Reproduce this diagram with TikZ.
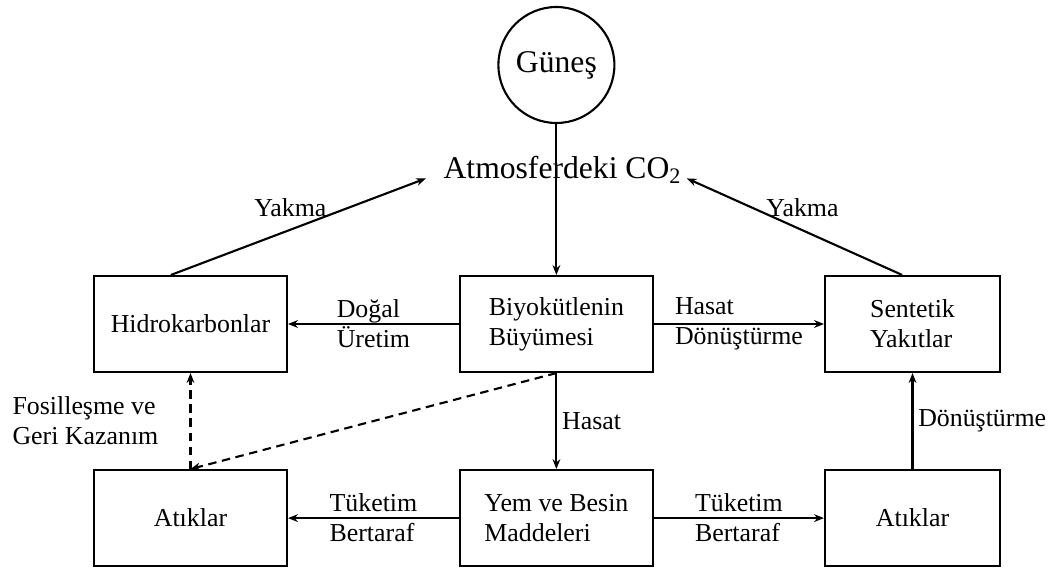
\documentclass[tikz,border=0pt]{standalone}
\usepackage{fontspec}
\setmainfont{Liberation Serif}
\usetikzlibrary{arrows.meta, positioning}

\begin{document}
\begin{tikzpicture}[node distance=2.4cm and 4.27cm, line width=1.5pt,
    >={Stealth[length=7pt, width=5.5pt]},
    font=\fontsize{18.4}{21.3}\selectfont,
    kutu/.style={draw, minimum width=4.825cm, minimum height=2.4cm, align=left, inner sep=0pt},
    dar/.style={kutu, minimum width=4.375cm},
    etiket/.style={midway, align=left},
    buyuk/.style={font=\fontsize{22.5}{26}\selectfont},
    kesikli/.style={dash pattern=on 6pt off 4pt}]
    \useasboundingbox (0,0) rectangle (26.35,-14.2);
    \node[kutu] (biyo) at (13.91,-8.1) {Biyokütlenin\\Büyümesi};
    \node[kutu, left=of biyo] (hidro) {Hidrokarbonlar};
    \node[dar, right=4.25cm of biyo] (sentetik) {Sentetik\\Yakıtlar};
    \node[kutu, below=of biyo] (yem) {Yem ve Besin\\Maddeleri};
    \node[kutu, below=of hidro] (atik1) {Atıklar};
    \node[dar, below=of sentetik] (atik2) {Atıklar};
    \node[draw, circle, minimum size=2.9cm, inner sep=0pt, buyuk] (gunes) at (13.91,-1.625) {Güneş};
    \node[buyuk] (co2) at (14.06,-4.24) {Atmosferdeki CO\textsubscript{2}};
    \draw[->] (gunes) -- (biyo);
    \draw[->] (biyo) -- node[etiket] {Doğal\\Üretim} (hidro);
    \draw[->] (biyo) -- node[etiket] {Hasat\\Dönüştürme} (sentetik);
    \draw[->] (biyo) -- node[midway, right] {Hasat} (yem);
    \draw[->] (yem) -- node[etiket] {Tüketim\\Bertaraf} (atik1);
    \draw[->] (yem) -- node[etiket] {Tüketim\\Bertaraf} (atik2);
    \draw[->] (atik2) -- node[midway, right] {Dönüştürme} (sentetik);
    \draw[->] ([xshift=-0.49cm]hidro.north) -- node[midway, above=1mm, xshift=-2mm] {Yakma} ([xshift=-3mm]co2.base west);
    \draw[->] ([xshift=-0.26cm]sentetik.north) -- node[midway, above=1mm, xshift=2mm] {Yakma} (co2.base east);
    \draw[->, kesikli] (atik1) -- node[etiket, left=0.66cm] {Fosilleşme ve\\Geri Kazanım} (hidro);
    \draw[->, kesikli] (biyo.south) -- (atik1.north);
\end{tikzpicture}
\end{document}
